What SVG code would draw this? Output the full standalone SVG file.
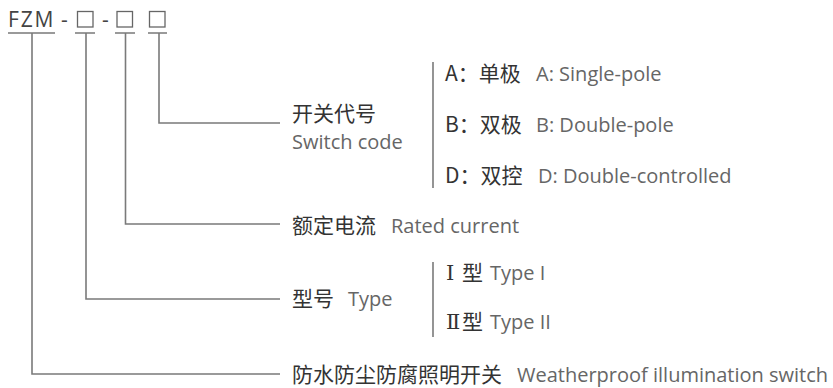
<svg xmlns="http://www.w3.org/2000/svg" width="833" height="388" viewBox="0 0 833 388">
<style>
.ln{fill:none;stroke:#7a7a7a;stroke-width:1.6}
.cn{font-family:"Noto Sans CJK SC","Open Sans",sans-serif;font-size:21px;fill:#333}
.en{font-family:"Open Sans","Noto Sans CJK SC",sans-serif;font-size:20px;fill:#666}
.hd{font-family:"Open Sans",sans-serif;font-size:21px;fill:#444}
.rn{font-family:"DejaVu Serif","Liberation Serif",serif;font-size:21px}
.bx{fill:none;stroke:#666;stroke-width:1.3}
</style>
<rect width="833" height="388" fill="#fff"/>
<g id="code">
<text class="hd" x="8" y="27" letter-spacing="1.8">FZM</text>
<text class="hd" x="61" y="27">-</text>
<rect class="bx" x="77.5" y="11.5" width="15.5" height="15.5"/>
<text class="hd" x="102" y="27">-</text>
<rect class="bx" x="117" y="11.5" width="15.5" height="15.5"/>
<rect class="bx" x="149.5" y="11.5" width="15.5" height="15.5"/>
</g>
<g id="connectors">
<path class="ln" d="M8 33H55M75 33H95M115 33H135M148 33H167"/>
<path class="ln" d="M159 33V123H280"/>
<path class="ln" d="M125.5 33V224H280"/>
<path class="ln" d="M86 33V299H280"/>
<path class="ln" d="M32 33V374H280"/>
<path class="ln" d="M433 62V188"/>
<path class="ln" d="M433 262V337"/>
</g>
<g id="switch-code">
<text class="cn" x="292" y="121">开关代号</text>
<text class="en" x="292" y="149">Switch code</text>
</g>
<g id="opt-a"><text class="cn" x="445" y="81">A：单极</text><text class="en" x="536" y="81">A: Single-pole</text></g>
<g id="opt-b"><text class="cn" x="445" y="132">B：双极</text><text class="en" x="536" y="132">B: Double-pole</text></g>
<g id="opt-d"><text class="cn" x="445" y="183">D：双控</text><text class="en" x="538" y="183">D: Double-controlled</text></g>
<g id="rated"><text class="cn" x="292" y="233">额定电流</text><text class="en" x="391" y="233">Rated current</text></g>
<g id="type"><text class="cn" x="292" y="306">型号</text><text class="en" x="348" y="306">Type</text></g>
<g id="type1"><text class="cn" x="446" y="280"><tspan class="rn">Ⅰ</tspan><tspan x="462">型</tspan></text><text class="en" x="490" y="280">Type I</text></g>
<g id="type2"><text class="cn" x="446" y="329"><tspan class="rn">Ⅱ</tspan><tspan x="462">型</tspan></text><text class="en" x="490" y="329">Type II</text></g>
<g id="name"><text class="cn" x="292" y="382">防水防尘防腐照明开关</text><text class="en" x="517" y="382">Weatherproof illumination switch</text></g>
</svg>
